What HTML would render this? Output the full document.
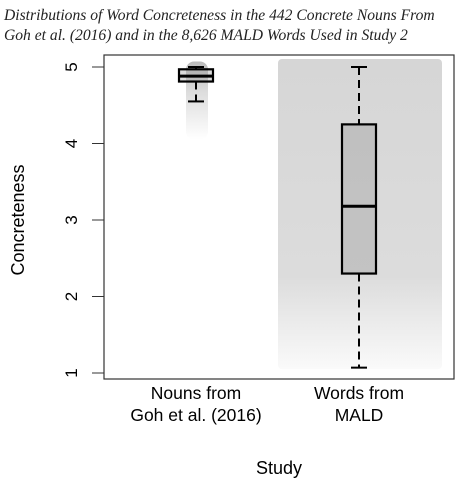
<!DOCTYPE html>
<html><head><meta charset="utf-8">
<style>
body{margin:0;background:#fff;}
svg text{font-family:"Liberation Sans",sans-serif;}
</style></head><body>
<svg width="468" height="485">
<defs>
<linearGradient id="g2" x1="0" y1="0" x2="0" y2="1">
<stop offset="0" stop-color="#d6d6d6"/><stop offset="0.7" stop-color="#dcdcdc"/><stop offset="0.85" stop-color="#ebebeb"/><stop offset="1" stop-color="#fafafa"/>
</linearGradient>
<linearGradient id="g1" x1="0" y1="0" x2="0" y2="1">
<stop offset="0" stop-color="#bbb"/><stop offset="0.4" stop-color="#ddd"/><stop offset="1" stop-color="#fff"/>
</linearGradient>
</defs>
<text x="4" y="20" font-style="italic" font-size="15.6" fill="#222" style="font-family:'Liberation Serif',serif">Distributions of Word Concreteness in the 442 Concrete Nouns From</text>
<text x="4" y="40" font-style="italic" font-size="15.6" fill="#222" style="font-family:'Liberation Serif',serif">Goh et al. (2016) and in the 8,626 MALD Words Used in Study 2</text>
<g id="plot"></g>
<rect x="104" y="55" width="350" height="324" fill="none" stroke="#333" stroke-width="1.2"/>
<text transform="translate(24,220) rotate(-90)" text-anchor="middle" font-size="18">Concreteness</text>
<text x="279" y="474" text-anchor="middle" font-size="18">Study</text>
</svg>
<script>
const categories=["Nouns from|Goh et al. (2016)","Words from|MALD"];
const q1=[4.81,2.3], med=[4.88,3.18], q3=[4.97,4.25], wlo=[4.55,1.07], whi=[5.0,5.0];
const yTicks=[1,2,3,4,5];
const NS="http://www.w3.org/2000/svg";
const g=document.getElementById('plot');
const y=v=>373-(v-1)*76.5;
const xc=i=>196+i*163;
function mk(t,a){const e=document.createElementNS(NS,t);for(const k in a)e.setAttribute(k,a[k]);g.appendChild(e);return e;}
let c=mk('rect',{x:278,y:y(5)-8,width:164,height:y(1.05)-y(5)+8,fill:'url(#g2)',rx:4});


c=mk('rect',{x:186,y:y(5.02)-4,width:22,height:y(4)-y(5.02),fill:'url(#g1)',rx:8});


yTicks.forEach(t=>{
 let l=mk('line',{x1:92,x2:104,y1:y(t),y2:y(t),stroke:'#333'});
 
 
 let tx=mk('text',{transform:`translate(77,${y(t)}) rotate(-90)`,'text-anchor':'middle','font-size':17});
 tx.textContent=t;
 
 
});
categories.forEach((cat,i)=>{
 const x=xc(i),hw=17;
 let w=mk('line',{x1:x,x2:x,y1:y(whi[i]),y2:y(q3[i]),stroke:'#000','stroke-width':2,'stroke-dasharray':'8,5'});
 
 
 w=mk('line',{x1:x,x2:x,y1:y(q1[i]),y2:y(wlo[i]),stroke:'#000','stroke-width':2,'stroke-dasharray':'8,5'});
 
 
 [whi[i],wlo[i]].forEach(v=>{let cap=mk('line',{x1:x-8,x2:x+8,y1:y(v),y2:y(v),stroke:'#000','stroke-width':2});
 
 });
 let b=mk('rect',{x:x-hw,y:y(q3[i]),width:2*hw,height:y(q1[i])-y(q3[i]),fill:'rgba(150,150,150,0.35)',stroke:'#000','stroke-width':2.2});
 
 
 let m=mk('line',{x1:x-hw,x2:x+hw,y1:y(med[i]),y2:y(med[i]),stroke:'#000','stroke-width':3});
 
 
 cat.split('|').forEach((s,j)=>{let t=mk('text',{x:x,y:399+j*22,'text-anchor':'middle','font-size':17.5});t.textContent=s;
 
 });
});
</script>
</body></html>
